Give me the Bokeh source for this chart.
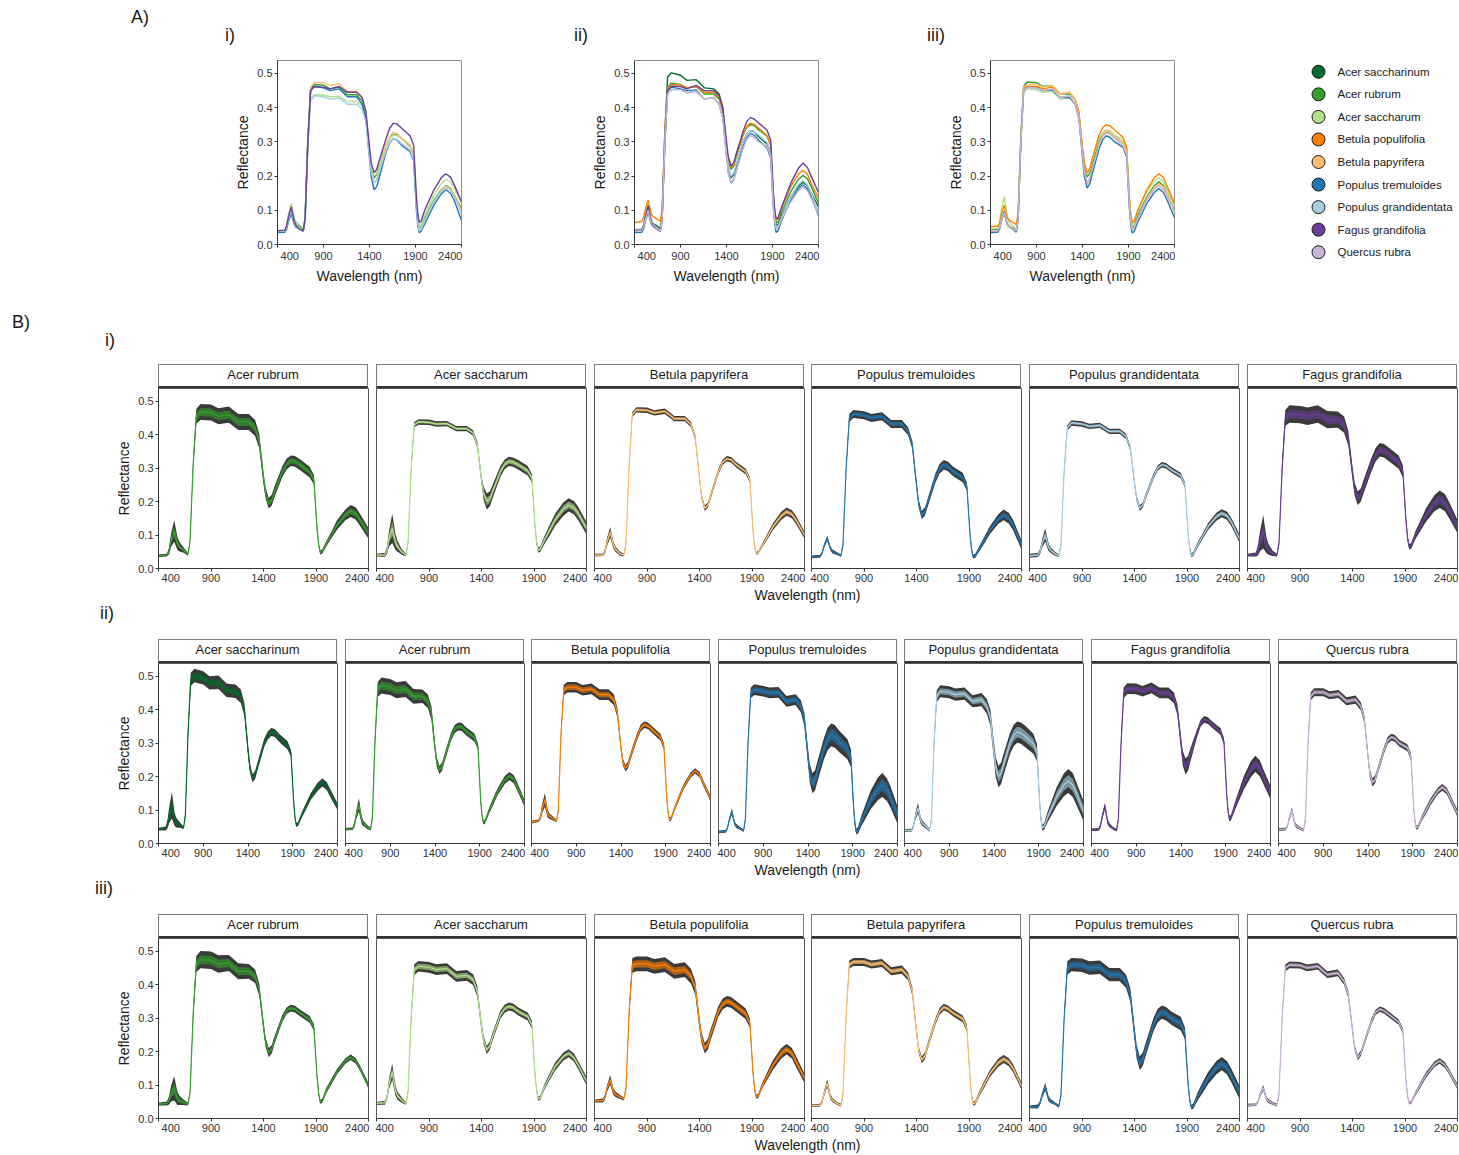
from bokeh.core.properties import value
from bokeh.embed import file_html
from bokeh.layouts import column, row
from bokeh.models import (ColumnDataSource, Div, FactorRange, FixedTicker,
                          PrintfTickFormatter, Range1d, Spacer)
from bokeh.plotting import figure
from bokeh.resources import INLINE

FONT = "Liberation Sans"
INK = "#1a1a1a"
TICK_INK = "#333333"

# ---------------------------------------------------------------- data
WAVELENGTH = [400, 480, 500, 520, 550, 580, 600, 640, 680, 700,
              730, 760, 800, 900, 970, 1070, 1160, 1260, 1320, 1360,
              1400, 1420, 1450, 1480, 1500, 1580, 1620, 1660, 1700, 1750,
              1840, 1880, 1910, 1925, 1940, 1960, 2000, 2050, 2100, 2180,
              2230, 2280, 2320, 2400]
X_TICKS = [400, 900, 1400, 1900, 2400]
Y_TICKS = [0.0, 0.1, 0.2, 0.3, 0.4, 0.5]
Y_TOP = 0.538

SPECIES = ["Acer saccharinum", "Acer rubrum", "Acer saccharum", "Betula populifolia", "Betula papyrifera",
           "Populus tremuloides", "Populus grandidentata", "Fagus grandifolia", "Quercus rubra"]
SPECIES_COLORS = ["#006d2c", "#33a02c", "#b2df8a", "#ff7f00", "#fdbf6f",
                  "#1f78b4", "#a6cee3", "#6a3d9a", "#cab2d6"]
COLOR = dict(zip(SPECIES, SPECIES_COLORS))

# mean reflectance and one standard deviation per species, site i
I_RUBRUM = [.038, .040, .052, .085, .112, .075, .065, .055, .042, .080,
            .310, .455, .468, .466, .455, .460, .438, .438, .420, .380,
            .270, .225, .195, .205, .225, .290, .312, .322, .320, .310,
            .288, .265, .120, .072, .048, .051, .075, .102, .130, .160,
            .172, .164, .145, .105]
I_RUBRUM_SD = [.002, .002, .005, .010, .016, .010, .007, .004, .002, .003,
               .008, .011, .012, .012, .012, .012, .012, .012, .012, .011,
               .009, .008, .008, .008, .008, .008, .008, .008, .008, .008,
               .008, .007, .004, .003, .003, .003, .004, .005, .007, .008,
               .009, .009, .009, .008]
I_SACCHARUM = [.040, .041, .055, .090, .120, .080, .066, .050, .040, .075,
               .300, .430, .438, .437, .432, .433, .418, .418, .405, .370,
               .265, .225, .200, .208, .225, .290, .311, .320, .318, .310,
               .292, .270, .125, .078, .055, .058, .085, .115, .145, .178,
               .190, .182, .165, .120]
I_SACCHARUM_SD = [.002, .003, .006, .012, .022, .012, .008, .004, .002, .003,
                  .005, .004, .004, .004, .004, .004, .004, .004, .004, .005,
                  .006, .010, .012, .011, .010, .008, .007, .007, .007, .007,
                  .007, .006, .004, .004, .004, .004, .006, .008, .009, .010,
                  .010, .010, .010, .009]
I_PAPYRIFERA = [.040, .041, .052, .080, .108, .070, .058, .045, .040, .075,
                .310, .460, .474, .473, .465, .470, .448, .448, .430, .390,
                .270, .215, .180, .190, .210, .290, .317, .328, .325, .310,
                .290, .265, .110, .065, .045, .048, .070, .097, .125, .158,
                .170, .162, .145, .100]
I_PAPYRIFERA_SD = [.002, .002, .004, .006, .008, .005, .004, .003, .002, .003,
                   .004, .004, .004, .004, .004, .004, .004, .004, .004, .004,
                   .004, .004, .004, .004, .004, .004, .004, .004, .004, .004,
                   .004, .004, .003, .002, .002, .002, .003, .004, .005, .006,
                   .006, .006, .006, .005]
I_TREMULOIDES = [.035, .036, .045, .068, .090, .060, .051, .045, .038, .072,
                 .300, .450, .462, .458, .450, .455, .432, .432, .410, .370,
                 .250, .195, .160, .170, .190, .270, .298, .310, .305, .290,
                 .272, .245, .100, .055, .035, .038, .060, .087, .115, .148,
                 .160, .150, .130, .070]
I_TREMULOIDES_SD = [.002, .002, .002, .003, .004, .003, .003, .002, .002, .003,
                    .005, .006, .006, .006, .006, .006, .006, .006, .006, .006,
                    .006, .006, .006, .006, .006, .007, .007, .007, .007, .007,
                    .007, .006, .004, .003, .003, .003, .004, .005, .006, .007,
                    .008, .008, .008, .007]
I_GRANDIDENTATA = [.038, .040, .050, .075, .100, .065, .055, .045, .038, .072,
                   .290, .420, .435, .432, .425, .428, .410, .410, .395, .360,
                   .255, .210, .180, .190, .210, .275, .300, .310, .307, .295,
                   .278, .250, .110, .062, .040, .043, .070, .097, .125, .155,
                   .165, .158, .140, .090]
I_GRANDIDENTATA_SD = [.003, .003, .004, .006, .010, .006, .004, .003, .002, .003,
                      .004, .004, .004, .004, .004, .004, .004, .004, .004, .004,
                      .004, .004, .004, .004, .004, .004, .004, .004, .004, .004,
                      .004, .004, .003, .003, .003, .003, .004, .004, .005, .006,
                      .006, .006, .006, .006]
I_FAGUS = [.040, .042, .055, .082, .110, .070, .057, .045, .040, .075,
           .300, .450, .462, .460, .455, .462, .445, .445, .430, .390,
           .285, .238, .210, .220, .240, .310, .340, .355, .352, .340,
           .318, .290, .140, .090, .065, .068, .100, .130, .160, .195,
           .207, .197, .175, .125]
I_FAGUS_SD = [.002, .003, .008, .015, .025, .012, .008, .004, .002, .003,
              .008, .012, .013, .013, .013, .013, .013, .012, .012, .011,
              .010, .010, .010, .010, .010, .010, .010, .010, .010, .010,
              .010, .009, .006, .005, .004, .004, .006, .008, .010, .012,
              .013, .013, .012, .010]

# site ii
II_SACCHARINUM = [.043, .045, .057, .085, .115, .072, .062, .055, .047, .085,
                  .330, .490, .502, .495, .480, .482, .458, .455, .440, .400,
                  .280, .228, .195, .205, .225, .300, .323, .333, .330, .315,
                  .294, .270, .125, .078, .055, .058, .085, .112, .140, .170,
                  .182, .172, .150, .110]
II_SACCHARINUM_SD = [.002, .003, .006, .012, .020, .010, .007, .004, .002, .003,
                     .008, .010, .010, .010, .010, .010, .010, .010, .010, .010,
                     .008, .007, .006, .006, .006, .006, .006, .006, .006, .006,
                     .006, .005, .004, .003, .003, .003, .004, .005, .005, .006,
                     .006, .006, .006, .005]
II_RUBRUM = [.043, .044, .056, .085, .115, .070, .060, .050, .043, .075,
             .310, .460, .472, .468, .458, .462, .440, .440, .425, .390,
             .285, .243, .220, .230, .250, .320, .342, .350, .348, .335,
             .317, .290, .130, .085, .063, .066, .095, .125, .155, .190,
             .202, .192, .170, .120]
II_RUBRUM_SD = [.002, .002, .004, .006, .010, .006, .004, .003, .002, .003,
                .008, .011, .012, .012, .012, .012, .011, .010, .010, .010,
                .008, .007, .006, .006, .006, .006, .006, .006, .006, .006,
                .006, .005, .004, .003, .003, .003, .004, .005, .005, .006,
                .006, .006, .006, .005]
II_POPULIFOLIA = [.064, .068, .079, .105, .130, .090, .082, .075, .068, .100,
                  .330, .458, .467, .467, .458, .462, .445, .445, .430, .390,
                  .285, .245, .225, .235, .255, .320, .345, .355, .352, .340,
                  .318, .290, .140, .095, .072, .075, .105, .138, .170, .205,
                  .217, .205, .180, .135]
II_POPULIFOLIA_SD = [.002, .002, .004, .007, .010, .006, .004, .003, .002, .003,
                     .006, .008, .008, .008, .008, .008, .008, .008, .008, .007,
                     .006, .005, .005, .005, .005, .005, .005, .005, .005, .005,
                     .005, .005, .004, .003, .003, .003, .003, .004, .004, .004,
                     .004, .004, .004, .004]
II_TREMULOIDES = [.035, .036, .046, .070, .095, .060, .052, .045, .038, .072,
                  .300, .450, .460, .455, .450, .452, .425, .430, .410, .370,
                  .260, .210, .180, .190, .210, .285, .313, .325, .320, .305,
                  .282, .255, .105, .058, .035, .040, .070, .100, .130, .163,
                  .175, .162, .140, .085]
II_TREMULOIDES_SD = [.002, .002, .002, .003, .005, .003, .003, .002, .002, .003,
                     .006, .008, .008, .008, .008, .008, .008, .008, .009, .010,
                     .012, .014, .015, .015, .015, .016, .017, .017, .017, .016,
                     .015, .013, .008, .005, .004, .005, .008, .011, .014, .017,
                     .018, .017, .016, .013]
II_GRANDIDENTATA = [.039, .040, .052, .080, .105, .070, .060, .050, .040, .072,
                    .300, .440, .455, .452, .445, .448, .425, .430, .410, .375,
                    .275, .228, .200, .210, .230, .300, .323, .333, .330, .320,
                    .298, .272, .125, .072, .047, .051, .080, .110, .140, .175,
                    .187, .175, .150, .097]
II_GRANDIDENTATA_SD = [.002, .002, .003, .005, .008, .005, .004, .003, .002, .003,
                       .007, .009, .009, .009, .009, .009, .009, .010, .011, .012,
                       .014, .015, .016, .016, .016, .016, .016, .016, .016, .016,
                       .015, .013, .008, .005, .004, .005, .008, .011, .014, .017,
                       .018, .018, .017, .015]
II_FAGUS = [.041, .042, .053, .080, .112, .065, .055, .045, .040, .072,
            .300, .450, .463, .462, .455, .465, .450, .450, .435, .400,
            .300, .255, .230, .240, .260, .330, .360, .371, .367, .355,
            .335, .305, .150, .100, .074, .078, .110, .145, .180, .222,
            .238, .225, .200, .152]
II_FAGUS_SD = [.002, .002, .003, .004, .005, .004, .003, .002, .002, .003,
               .006, .008, .008, .008, .008, .008, .008, .008, .008, .008,
               .010, .011, .012, .011, .010, .006, .005, .005, .005, .005,
               .005, .005, .005, .004, .004, .004, .006, .008, .010, .012,
               .012, .012, .011, .010]
II_QUERCUS = [.042, .043, .052, .075, .100, .060, .052, .045, .040, .072,
              .300, .440, .452, .452, .443, .447, .425, .430, .410, .370,
              .260, .210, .182, .192, .210, .280, .308, .318, .314, .300,
              .286, .260, .110, .066, .047, .050, .075, .100, .125, .157,
              .168, .157, .135, .090]
II_QUERCUS_SD = [.002, .002, .002, .003, .004, .003, .003, .002, .002, .003,
                 .005, .006, .006, .006, .006, .006, .006, .006, .006, .006,
                 .006, .006, .006, .006, .005, .005, .005, .005, .005, .005,
                 .005, .005, .004, .003, .003, .003, .004, .005, .005, .005,
                 .005, .005, .005, .005]

# site iii
III_RUBRUM = [.043, .045, .054, .075, .090, .060, .054, .048, .043, .075,
              .310, .462, .475, .473, .462, .465, .440, .440, .425, .385,
              .275, .228, .197, .208, .230, .300, .322, .330, .327, .315,
              .296, .272, .125, .075, .050, .053, .085, .112, .140, .172,
              .183, .172, .150, .098]
III_RUBRUM_SD = [.002, .003, .006, .012, .018, .010, .007, .004, .002, .003,
                 .008, .012, .013, .013, .013, .012, .012, .011, .010, .009,
                 .008, .007, .007, .006, .006, .005, .005, .005, .005, .005,
                 .005, .005, .004, .003, .003, .003, .004, .004, .004, .004,
                 .004, .004, .004, .004]
III_SACCHARUM = [.045, .047, .063, .105, .140, .085, .068, .055, .045, .078,
                 .300, .445, .455, .452, .445, .448, .425, .428, .415, .380,
                 .275, .235, .205, .218, .240, .310, .328, .335, .332, .320,
                 .305, .280, .130, .085, .059, .063, .095, .125, .155, .185,
                 .195, .182, .160, .112]
III_SACCHARUM_SD = [.002, .003, .004, .008, .012, .008, .006, .004, .002, .003,
                    .007, .008, .008, .008, .008, .008, .008, .008, .008, .008,
                    .007, .006, .006, .006, .006, .006, .006, .006, .006, .006,
                    .006, .006, .004, .003, .003, .003, .004, .005, .006, .006,
                    .006, .006, .006, .006]
III_POPULIFOLIA = [.052, .054, .064, .090, .115, .080, .072, .065, .058, .090,
                   .320, .458, .462, .462, .455, .460, .440, .445, .425, .390,
                   .285, .240, .210, .222, .245, .320, .342, .350, .347, .335,
                   .313, .285, .135, .088, .065, .068, .100, .130, .160, .195,
                   .207, .195, .170, .120]
III_POPULIFOLIA_SD = [.002, .003, .004, .005, .007, .005, .004, .003, .002, .003,
                      .008, .011, .011, .011, .011, .011, .011, .011, .011, .010,
                      .009, .008, .008, .008, .008, .008, .008, .008, .008, .008,
                      .008, .007, .005, .004, .003, .003, .004, .006, .007, .008,
                      .008, .008, .008, .007]
III_PAPYRIFERA = [.038, .040, .050, .075, .105, .065, .055, .045, .040, .072,
                  .310, .460, .468, .468, .460, .465, .440, .445, .425, .380,
                  .260, .205, .175, .187, .210, .290, .320, .333, .328, .315,
                  .298, .270, .120, .068, .044, .047, .075, .105, .135, .167,
                  .178, .168, .150, .097]
III_PAPYRIFERA_SD = [.002, .002, .003, .004, .006, .004, .003, .002, .002, .003,
                     .005, .006, .006, .006, .006, .006, .006, .006, .006, .006,
                     .006, .005, .005, .005, .005, .005, .005, .005, .005, .005,
                     .005, .005, .004, .003, .003, .003, .004, .005, .005, .006,
                     .006, .006, .006, .005]
III_TREMULOIDES = [.035, .036, .046, .070, .095, .060, .052, .045, .036, .070,
                   .300, .450, .460, .458, .450, .452, .430, .430, .410, .370,
                   .255, .200, .165, .178, .200, .280, .307, .318, .313, .300,
                   .284, .255, .105, .058, .034, .037, .065, .093, .120, .152,
                   .164, .152, .130, .078]
III_TREMULOIDES_SD = [.002, .003, .003, .004, .006, .004, .003, .002, .002, .003,
                      .007, .010, .010, .010, .010, .010, .010, .010, .010, .010,
                      .010, .010, .010, .010, .010, .010, .010, .010, .010, .010,
                      .010, .009, .006, .004, .003, .004, .006, .008, .009, .010,
                      .010, .010, .010, .010]
III_QUERCUS = [.040, .041, .050, .070, .092, .060, .052, .045, .040, .072,
               .300, .450, .459, .458, .450, .455, .430, .435, .410, .370,
               .265, .212, .182, .195, .215, .290, .317, .327, .322, .310,
               .288, .262, .110, .066, .046, .049, .075, .102, .130, .162,
               .172, .160, .140, .095]
III_QUERCUS_SD = [.002, .002, .002, .003, .004, .003, .003, .002, .002, .003,
                  .004, .005, .005, .005, .005, .005, .005, .005, .005, .005,
                  .005, .004, .004, .004, .004, .004, .004, .004, .004, .004,
                  .004, .004, .003, .002, .002, .002, .003, .004, .004, .004,
                  .004, .004, .004, .004]

SITE_I = [("Acer rubrum", I_RUBRUM, I_RUBRUM_SD),
          ("Acer saccharum", I_SACCHARUM, I_SACCHARUM_SD),
          ("Betula papyrifera", I_PAPYRIFERA, I_PAPYRIFERA_SD),
          ("Populus tremuloides", I_TREMULOIDES, I_TREMULOIDES_SD),
          ("Populus grandidentata", I_GRANDIDENTATA, I_GRANDIDENTATA_SD),
          ("Fagus grandifolia", I_FAGUS, I_FAGUS_SD)]
SITE_II = [("Acer saccharinum", II_SACCHARINUM, II_SACCHARINUM_SD),
           ("Acer rubrum", II_RUBRUM, II_RUBRUM_SD),
           ("Betula populifolia", II_POPULIFOLIA, II_POPULIFOLIA_SD),
           ("Populus tremuloides", II_TREMULOIDES, II_TREMULOIDES_SD),
           ("Populus grandidentata", II_GRANDIDENTATA, II_GRANDIDENTATA_SD),
           ("Fagus grandifolia", II_FAGUS, II_FAGUS_SD),
           ("Quercus rubra", II_QUERCUS, II_QUERCUS_SD)]
SITE_III = [("Acer rubrum", III_RUBRUM, III_RUBRUM_SD),
            ("Acer saccharum", III_SACCHARUM, III_SACCHARUM_SD),
            ("Betula populifolia", III_POPULIFOLIA, III_POPULIFOLIA_SD),
            ("Betula papyrifera", III_PAPYRIFERA, III_PAPYRIFERA_SD),
            ("Populus tremuloides", III_TREMULOIDES, III_TREMULOIDES_SD),
            ("Quercus rubra", III_QUERCUS, III_QUERCUS_SD)]
SITES = [SITE_I, SITE_II, SITE_III]

for site in SITES:
    for _, m, s in site:
        assert len(m) == len(WAVELENGTH) and len(s) == len(WAVELENGTH)

# ---------------------------------------------------------------- layout constants
PAGE_W = 1459
TICK_OUT = 3
STANDOFF = 2
EDGE = 1             # canvas margin beside a frame; Bokeh keeps end labels inside it
PAD = "\u00a0" * 8   # no-break spaces: shift the first label right where it is not clamped


def spectral_figure(fw, fh, left, right, top, bottom, with_y, x_title, outline, x_standoff=STANDOFF):
    p = figure(frame_width=fw, frame_height=fh,
               min_border_left=left, min_border_right=right,
               min_border_top=top, min_border_bottom=bottom,
               x_range=Range1d(X_TICKS[0], X_TICKS[-1]), y_range=Range1d(0, Y_TOP),
               y_axis_location="left" if with_y else None,
               toolbar_location=None, output_backend="svg")
    p.grid.visible = False
    p.outline_line_color = outline
    p.outline_line_width = 1
    p.background_fill_color = "white"
    p.border_fill_color = "white"

    xa = p.xaxis[0]
    xa.ticker = FixedTicker(ticks=X_TICKS)
    if with_y:
        xa.major_label_overrides = {X_TICKS[0]: PAD + str(X_TICKS[0])}
        ya = p.yaxis[0]
        ya.ticker = FixedTicker(ticks=Y_TICKS)
        ya.formatter = PrintfTickFormatter(format="%.1f")
        ya.axis_label = "Reflectance"
    if x_title:
        xa.axis_label = x_title
    for ax in p.axis:
        ax.major_tick_out = TICK_OUT
        ax.major_tick_in = 0
        ax.minor_tick_out = 0
        ax.minor_tick_in = 0
        ax.axis_line_color = TICK_INK
        ax.major_tick_line_color = TICK_INK
        ax.major_label_text_font = FONT
        ax.major_label_text_font_size = "11px"
        ax.major_label_text_color = TICK_INK
        ax.major_label_standoff = STANDOFF
        ax.axis_label_text_font = FONT
        ax.axis_label_text_font_size = "14px"
        ax.axis_label_text_font_style = "normal"
        ax.axis_label_text_color = INK
        ax.axis_label_standoff = 3
    xa.major_label_standoff = x_standoff
    return p


def span(txt, left, top, size, extra=""):
    return (f'<span style="position:absolute;left:{left}px;top:{top}px;font-family:\'{FONT}\';'
            f'font-size:{size}px;line-height:1;color:{INK};white-space:nowrap;{extra}">{txt}</span>')


def strip(label, left, top, width):
    return (f'<div style="position:absolute;left:{left}px;top:{top}px;width:{width}px;height:24px;'
            f'box-sizing:border-box;border:1px solid #7f7f7f;border-bottom:2px solid #333333;'
            f'background:white;display:flex;align-items:center;justify-content:center;'
            f'font-family:\'{FONT}\';font-size:13px;color:{INK};white-space:nowrap;">{label}</div>')


def block(parts, height):
    html = (f'<div style="position:relative;width:{PAGE_W}px;height:{height}px;">'
            + "".join(parts) + "</div>")
    return Div(text=html, width=PAGE_W, height=height, margin=0)


def x_title_span(top):
    return span("Wavelength (nm)", 807.5, top, 14, "transform:translateX(-50%);")


# ---------------------------------------------------------------- section A: mean spectra per site
A_FRAME = 184
A_FRAME_LEFT = [277, 634, 990]
LEGEND_LEFT = 1300

a_figs = []
start = 0
for k, site in enumerate(SITES):
    p = spectral_figure(A_FRAME, A_FRAME, A_FRAME_LEFT[k] - start, EDGE, 10, 46, True,
                        "Wavelength (nm)", "#8c8c8c")
    start = A_FRAME_LEFT[k] + A_FRAME + EDGE
    present = {name: m for name, m, _ in site}
    for name in SPECIES:
        if name in present:
            p.line(WAVELENGTH, present[name], line_color=COLOR[name], line_width=1.4)
    a_figs.append(p)

legend_fig = figure(frame_width=PAGE_W - LEGEND_LEFT, frame_height=203,
                    min_border_left=LEGEND_LEFT - start, min_border_right=0,
                    min_border_top=9, min_border_bottom=28,
                    x_range=Range1d(0, PAGE_W - LEGEND_LEFT), y_range=FactorRange(factors=SPECIES[::-1]),
                    x_axis_location=None, y_axis_location=None,
                    toolbar_location=None, output_backend="svg")
legend_fig.grid.visible = False
legend_fig.outline_line_color = None
legend_fig.border_fill_color = "white"
leg_src = ColumnDataSource(dict(name=SPECIES, color=SPECIES_COLORS))
legend_fig.scatter(x=18, y="name", size=13, marker="circle", fill_color="color",
                   line_color="#1a1a1a", line_width=1, source=leg_src)
legend_fig.text(x=37, y="name", text="name", text_baseline="middle", text_align="left",
                text_font=value(FONT), text_font_size=value("11.5px"), text_color=INK, source=leg_src)

head_a = block([span("A)", 131, 8, 18), span("i)", 225, 26, 18),
                span("ii)", 574, 26, 18), span("iii)", 927, 26, 18)], 50)
row_a = row(*a_figs, legend_fig, spacing=0)

# ---------------------------------------------------------------- section B: spectra per species
B_FRAME_H = 180
B_BOTTOM = 20
SIX_LEFT = [158, 376, 594, 811, 1029, 1247]
SEVEN_LEFT = [158, 345, 531, 718, 904, 1091, 1278]


def panel_geometry(n):
    return (SIX_LEFT, 210) if n == 6 else (SEVEN_LEFT, 179)


def site_row(site):
    lefts, width = panel_geometry(len(site))
    children = []
    cursor = 0
    for k, (name, mean, sd) in enumerate(site):
        left_border = lefts[k] if k == 0 else EDGE
        canvas_start = lefts[k] - left_border
        if canvas_start > cursor:
            children.append(Spacer(width=canvas_start - cursor, height=1, margin=0))
        p = spectral_figure(width, B_FRAME_H, left_border, EDGE, 0, B_BOTTOM, k == 0, None, "#555555",
                            x_standoff=0 if k == 0 else STANDOFF)
        outer_lo = [m - 2 * s for m, s in zip(mean, sd)]
        outer_hi = [m + 2 * s for m, s in zip(mean, sd)]
        inner_lo = [m - s for m, s in zip(mean, sd)]
        inner_hi = [m + s for m, s in zip(mean, sd)]
        p.varea(WAVELENGTH, outer_lo, outer_hi, fill_color="#2f2f2f", fill_alpha=0.95)
        p.varea(WAVELENGTH, inner_lo, inner_hi, fill_color=COLOR[name], fill_alpha=0.6)
        p.line(WAVELENGTH, mean, line_color=COLOR[name], line_width=1.2)
        children.append(p)
        cursor = lefts[k] + width + EDGE
    return row(*children, spacing=0)


def strips(site, top):
    lefts, width = panel_geometry(len(site))
    return [strip(name, lefts[k], top, width) for k, (name, _, _) in enumerate(site)]


head_b = block([span("B)", 12, 23, 18), span("i)", 105, 41, 18)] + strips(SITE_I, 74), 98)
mid_1 = block([x_title_span(0), span("ii)", 100, 16, 18)] + strips(SITE_II, 51), 75)
mid_2 = block([x_title_span(0), span("iii)", 95, 16, 18)] + strips(SITE_III, 51), 75)
tail = block([x_title_span(0)], 17)

page = column(head_a, row_a, head_b, site_row(SITE_I), mid_1, site_row(SITE_II),
              mid_2, site_row(SITE_III), tail, spacing=0)

with open("out.html", "w") as fh:
    fh.write(file_html(page, INLINE))
